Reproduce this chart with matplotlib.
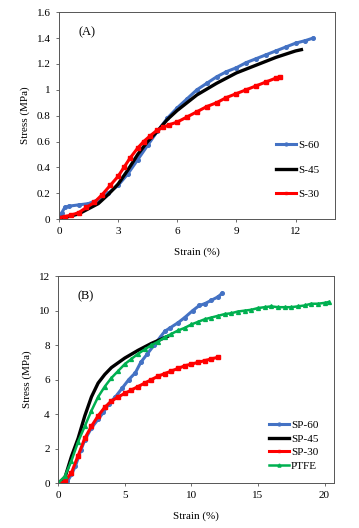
import numpy as np
import matplotlib.pyplot as plt

plt.rcParams['font.family'] = ['Liberation Serif', 'DejaVu Serif']

# panel A: S series
s60_x = [0, 0.15, 0.3, 0.5, 1.0, 1.5, 2.0, 2.5, 3.0, 3.5, 4.0, 4.5, 5.0, 5.5, 6.0,
         6.5, 7.0, 7.5, 8.0, 8.5, 9.0, 9.5, 10.0, 10.5, 11.0, 11.5, 12.0, 12.5, 12.9]
s60_y = [0.01, 0.05, 0.09, 0.10, 0.11, 0.12, 0.15, 0.20, 0.26, 0.35, 0.46, 0.57, 0.68, 0.78, 0.86,
         0.93, 1.00, 1.05, 1.10, 1.14, 1.17, 1.21, 1.24, 1.27, 1.30, 1.33, 1.36, 1.38, 1.40]
s45_x = [0, 0.5, 1.0, 1.5, 2.0, 2.5, 3.0, 3.5, 4.0, 4.5, 5.0, 5.5, 6.0, 7.0, 8.0, 9.0,
         10.0, 11.0, 12.0, 12.3]
s45_y = [0.01, 0.02, 0.04, 0.08, 0.12, 0.19, 0.27, 0.38, 0.50, 0.60, 0.68, 0.77, 0.84, 0.96,
         1.05, 1.13, 1.19, 1.25, 1.30, 1.31]
s30_x = [0, 0.3, 0.6, 1.0, 1.4, 1.8, 2.2, 2.6, 3.0, 3.3, 3.6, 4.0, 4.3, 4.6, 5.0, 5.3, 5.6,
         6.0, 6.5, 7.0, 7.5, 8.0, 8.5, 9.0, 9.5, 10.0, 10.5, 11.0, 11.2]
s30_y = [0.01, 0.02, 0.03, 0.05, 0.09, 0.13, 0.19, 0.26, 0.33, 0.40, 0.47, 0.55, 0.60, 0.64,
         0.69, 0.71, 0.73, 0.75, 0.79, 0.83, 0.87, 0.90, 0.94, 0.97, 1.00, 1.03, 1.06, 1.09, 1.10]

# panel B: SP series + PTFE
sp60_x = [0.3, 0.7, 1.0, 1.3, 1.7, 2.0, 2.5, 3.0, 3.4, 3.8, 4.3, 4.8, 5.3, 5.8, 6.2, 6.7,
          7.2, 7.7, 8.0, 8.4, 9.0, 9.5, 10.1, 10.6, 11.0, 11.5, 12.0, 12.3]
sp60_y = [0.0, 0.1, 0.5, 1.0, 1.9, 2.5, 3.2, 3.7, 4.1, 4.6, 5.0, 5.5, 6.0, 6.4, 7.0, 7.5,
          8.0, 8.5, 8.8, 9.0, 9.3, 9.6, 10.0, 10.3, 10.4, 10.6, 10.8, 11.0]
sp45_x = [0, 0.5, 1.0, 1.5, 2.0, 2.5, 3.0, 3.5, 4.0, 5.0, 6.0, 7.0, 8.2]
sp45_y = [0.0, 0.3, 1.55, 2.6, 3.9, 5.0, 5.8, 6.3, 6.7, 7.25, 7.7, 8.1, 8.5]
sp30_x = [0.2, 0.5, 1.0, 1.5, 2.0, 2.5, 3.0, 3.5, 4.0, 4.5, 5.0, 5.5, 6.0, 6.5, 7.0, 7.5,
          8.0, 8.5, 9.0, 9.5, 10.0, 10.5, 11.0, 11.5, 12.0]
sp30_y = [0.0, 0.1, 0.6, 1.6, 2.6, 3.3, 3.9, 4.4, 4.75, 5.0, 5.2, 5.4, 5.6, 5.8, 6.0, 6.2,
          6.35, 6.5, 6.65, 6.8, 6.9, 7.0, 7.1, 7.2, 7.3]
ptfe_x = [0, 0.5, 1.0, 1.5, 2.0, 2.5, 3.0, 3.5, 4.0, 4.5, 5.0, 5.5, 6.0, 6.5, 7.0, 7.5, 8.0,
          8.5, 9.0, 9.5, 10.0, 10.5, 11.0, 11.5, 12.0, 12.5, 13.0, 13.5, 14.0, 14.5, 15.0,
          15.5, 16.0, 16.5, 17.0, 17.5, 18.0, 18.5, 19.0, 19.5, 20.0, 20.3]
ptfe_y = [0.0, 0.4, 1.3, 2.4, 3.3, 4.2, 5.0, 5.6, 6.1, 6.5, 6.9, 7.2, 7.5, 7.75, 8.0, 8.2,
          8.45, 8.65, 8.85, 9.0, 9.2, 9.35, 9.5, 9.6, 9.7, 9.8, 9.85, 9.95, 10.0, 10.05, 10.15,
          10.2, 10.25, 10.2, 10.2, 10.2, 10.25, 10.3, 10.4, 10.4, 10.45, 10.5]

blue = '#4472c4'
red = '#ff0000'
green = '#00b050'

fig = plt.figure(figsize=(3.59, 5.28), dpi=100)
axA = fig.add_axes([0.164, 0.585, 0.769, 0.392])
axB = fig.add_axes([0.162, 0.085, 0.768, 0.392])

axA.plot(s60_x, s60_y, '-o', color=blue, lw=2.2, ms=2.6, label='S-60')
axA.plot(s45_x, s45_y, '-', color='black', lw=2.4, label='S-45')
axA.plot(s30_x, s30_y, '-s', color=red, lw=2.2, ms=2.4, label='S-30')
axA.set_xlim(0, 14)
axA.set_ylim(0, 1.6)
axA.set_xticks([0, 3, 6, 9, 12])
axA.set_yticks([0, 0.2, 0.4, 0.6, 0.8, 1.0, 1.2, 1.4, 1.6])
axA.set_yticklabels(['0', '0.2', '0.4', '0.6', '0.8', '1', '1.2', '1.4', '1.6'])
axA.text(0.07, 0.89, '(A)', transform=axA.transAxes, fontsize=9)
axA.legend(loc='lower right', bbox_to_anchor=(0.98, 0.05), frameon=False, fontsize=8,
           handlelength=1.8, handletextpad=0.2, labelspacing=1.3, markerscale=0.8)

axB.plot(sp60_x, sp60_y, '-o', color=blue, lw=2.2, ms=2.6, label='SP-60')
axB.plot(sp45_x, sp45_y, '-', color='black', lw=2.4, label='SP-45')
axB.plot(sp30_x, sp30_y, '-s', color=red, lw=2.2, ms=2.4, label='SP-30')
axB.plot(ptfe_x, ptfe_y, '-^', color=green, lw=1.8, ms=2.8, label='PTFE')
axB.set_xlim(0, 20.7)
axB.set_ylim(0, 12)
axB.set_xticks([0, 5, 10, 15, 20])
axB.set_yticks([0, 2, 4, 6, 8, 10, 12])
axB.text(0.07, 0.89, '(B)', transform=axB.transAxes, fontsize=9)
axB.legend(loc='lower right', bbox_to_anchor=(0.98, 0.01), frameon=False, fontsize=8,
           handlelength=1.8, handletextpad=0.2, labelspacing=0.35, markerscale=0.8)

for ax in (axA, axB):
    ax.tick_params(labelsize=8, length=2.5, width=0.6, color='#555555')
    for sp in ax.spines.values():
        sp.set_color('#555555')
        sp.set_linewidth(0.7)
    ax.set_xlabel('Strain (%)', fontsize=8, labelpad=8)
    ax.set_ylabel('Stress (MPa)', fontsize=8, labelpad=5)

fig.savefig('out.png', dpi=100)
